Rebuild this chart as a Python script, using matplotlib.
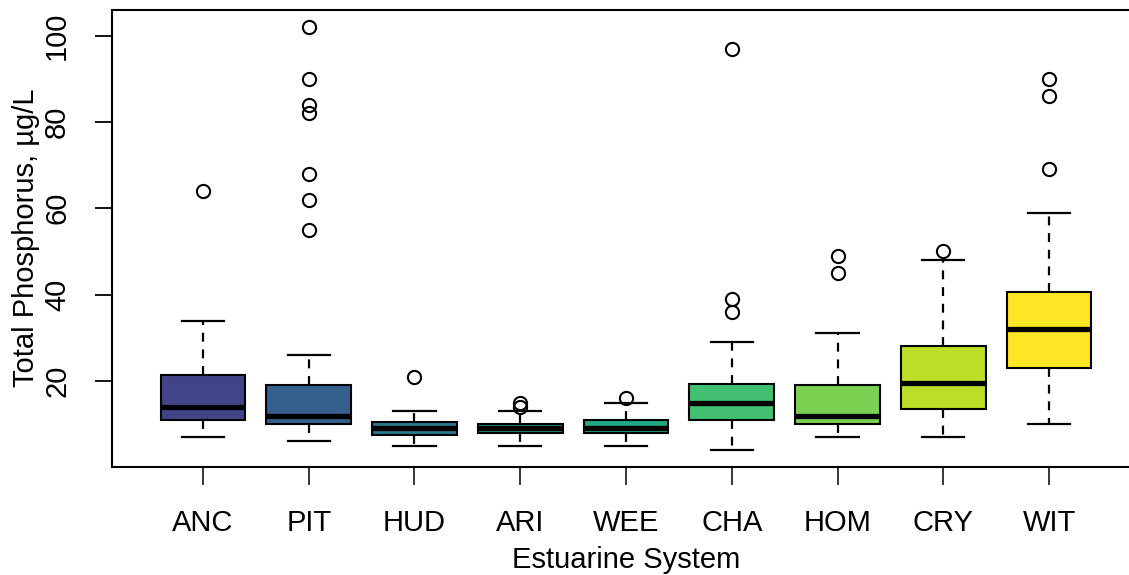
import matplotlib
matplotlib.use("Agg")
import matplotlib.pyplot as plt

# Boxplot summaries (ug/L)
systems = ["ANC", "PIT", "HUD", "ARI", "WEE", "CHA", "HOM", "CRY", "WIT"]
whisker_lo = [7, 6, 5, 5, 5, 4, 7, 7, 10]
q1 = [11, 10, 7.5, 8, 8, 11, 10, 13.5, 23]
median = [14, 12, 9, 9, 9, 15, 12, 19.5, 32]
q3 = [21.5, 19, 10.5, 10, 11, 19.4, 19, 28, 40.5]
whisker_hi = [34, 26, 13, 13, 15, 29, 31, 48, 59]
outliers = [
    [64],
    [55, 62, 68, 82, 84, 90, 102],
    [21],
    [14, 15],
    [16],
    [36, 39, 97],
    [45, 49],
    [50],
    [69, 86, 90],
]
# viridis(11)[3:11] as in R
box_colors = ["#414487", "#35608D", "#2A788E", "#21908C", "#22A884",
              "#43BF71", "#7AD151", "#BBDF27", "#FDE725"]

plt.rcParams["font.family"] = ["Liberation Sans", "DejaVu Sans"]
plt.rcParams["font.size"] = 21

W, H = 1129, 575
fig = plt.figure(figsize=(W / 100, H / 100), dpi=100)
# plot region in pixels: x 112..1140 (right side cut off), y 10..467
ax = fig.add_axes([112 / W, (H - 467) / H, 1028 / W, 457 / H])

stats = []
for i, name in enumerate(systems):
    stats.append(dict(label=name, med=median[i], q1=q1[i], q3=q3[i],
                      whislo=whisker_lo[i], whishi=whisker_hi[i],
                      fliers=outliers[i]))

pos = list(range(1, len(systems) + 1))
bp = ax.bxp(stats, positions=pos, widths=0.8, capwidths=0.4,
            patch_artist=True,
            boxprops=dict(edgecolor="black", linewidth=1.5),
            medianprops=dict(color="black", linewidth=3.8,
                             solid_capstyle="butt"),
            whiskerprops=dict(color="black", linewidth=1.6,
                              linestyle=(0, (4, 3.5))),
            capprops=dict(color="black", linewidth=1.6),
            flierprops=dict(marker="o", markerfacecolor="none",
                            markeredgecolor="black", markersize=9.5,
                            markeredgewidth=1.5))
for patch, col in zip(bp["boxes"], box_colors):
    patch.set_facecolor(col)

# R-style 4% range extension
lo = min(whisker_lo)
hi = max(max(o) for o in outliers)
ext = (hi - lo) * 0.04
ax.set_ylim(lo - ext, hi + ext)
ax.set_xlim(0.5 - 0.36, len(systems) + 0.5 + 0.36)

ax.set_xticks(pos)
ax.set_xticklabels(systems)
ax.set_yticks([20, 40, 60, 80, 100])
for lab in ax.get_yticklabels():
    lab.set_rotation(90)
    lab.set_va("center")

ax.tick_params(axis="x", length=13, width=1.1, pad=17)
ax.tick_params(axis="y", length=12.5, width=1.3, pad=17)
for sp in ax.spines.values():
    sp.set_linewidth(1.5)

fig.text(626 / W, 1 - 568 / H, "Estuarine System", ha="center", va="baseline")
fig.text(26 / W, 1 - 238 / H, "Total Phosphorus, µg/L", rotation=90,
         ha="center", va="center")

fig.savefig("out.png", dpi=100)
